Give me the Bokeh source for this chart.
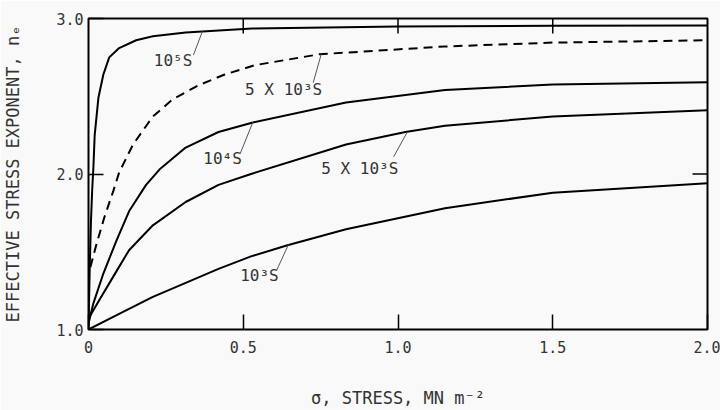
import math
from bokeh.plotting import figure
from bokeh.models import FixedTicker, Range1d, ColumnDataSource
from bokeh.core.properties import value
from bokeh.embed import file_html
from bokeh.resources import INLINE

# ---- data (stress in MN m^-2, effective stress exponent n_e) ----
s_1e5 = [0.0, 0.004, 0.008, 0.012, 0.016, 0.02, 0.032, 0.048, 0.067, 0.099, 0.154, 0.208, 0.314, 0.528, 1.0, 1.5, 2.0]
n_1e5 = [1.0, 1.4, 1.7, 1.9, 2.05, 2.25, 2.49, 2.64, 2.75, 2.81, 2.86, 2.886, 2.91, 2.935, 2.948, 2.953, 2.955]

s_5e3_dash = [0.006, 0.026, 0.051, 0.08, 0.099, 0.144, 0.208, 0.272, 0.355, 0.44, 0.538, 0.746, 1.15, 1.5, 2.0]
n_5e3_dash = [1.40, 1.55, 1.72, 1.89, 2.01, 2.19, 2.37, 2.48, 2.57, 2.64, 2.70, 2.77, 2.82, 2.845, 2.86]

s_1e4 = [0.0, 0.016, 0.048, 0.09, 0.131, 0.186, 0.23, 0.314, 0.42, 0.528, 0.832, 1.152, 1.5, 2.0]
n_1e4 = [1.04, 1.17, 1.36, 1.57, 1.76, 1.93, 2.03, 2.17, 2.27, 2.33, 2.46, 2.54, 2.575, 2.59]

s_5e3 = [0.0, 0.003, 0.035, 0.08, 0.131, 0.208, 0.314, 0.42, 0.525, 0.832, 1.024, 1.152, 1.5, 2.0]
n_5e3 = [1.02, 1.08, 1.19, 1.34, 1.51, 1.67, 1.82, 1.93, 2.0, 2.19, 2.27, 2.31, 2.37, 2.41]

s_1e3 = [0.0, 0.099, 0.208, 0.314, 0.42, 0.525, 0.64, 0.832, 1.152, 1.5, 2.0]
n_1e3 = [1.0, 1.10, 1.21, 1.30, 1.39, 1.47, 1.54, 1.645, 1.78, 1.88, 1.94]

curve_labels = ["10\u2075S", "5 X 10\u00b3S", "10\u2074S", "5 X 10\u00b3S", "10\u00b3S"]

x_ticks = [0, 0.5, 1.0, 1.5, 2.0]
x_tick_labels = ["0", "0.5", "1.0", "1.5", "2.0"]
y_ticks = [1.0, 2.0, 3.0]
y_tick_labels = ["1.0", "2.0", "3.0"]

# ---- annotation placement (data coords) ----
label_x = [0.211, 0.506, 0.371, 0.752, 0.49]
label_y = [2.733, 2.543, 2.098, 2.035, 1.35]
lead_x0 = [0.339, 0.726, 0.49, 0.986, 0.608]
lead_y0 = [2.765, 2.587, 2.13, 2.111, 1.381]
lead_x1 = [0.368, 0.752, 0.531, 1.03, 0.646]
lead_y1 = [2.917, 2.771, 2.333, 2.27, 1.546]

FONT = "DejaVu Sans Mono"
TXT = "#333333"
BG = "#f8f9f8"

p = figure(width=720, height=410, x_range=Range1d(0, 2), y_range=Range1d(1, 3),
           output_backend="svg", toolbar_location=None,
           min_border_left=82, min_border_right=13, min_border_top=18, min_border_bottom=77,
           x_axis_label="\u03c3, STRESS, MN m\u207b\u00b2",
           y_axis_label="EFFECTIVE STRESS EXPONENT, n\u2091")
p.background_fill_color = BG
p.border_fill_color = BG
p.grid.visible = False
p.outline_line_color = "black"
p.outline_line_width = 2
p.outline_line_alpha = 1.0

for ax, ticks, labels in ((p.xaxis[0], x_ticks, x_tick_labels), (p.yaxis[0], y_ticks, y_tick_labels)):
    ax.ticker = FixedTicker(ticks=ticks)
    ax.major_label_overrides = {t: l for t, l in zip(ticks, labels)}
    ax.major_tick_in = 15
    ax.major_tick_out = 0
    ax.major_tick_line_width = 1.5
    ax.major_tick_line_color = "black"
    ax.minor_tick_line_color = None
    ax.axis_line_color = None
    ax.major_label_text_font = FONT
    ax.major_label_text_font_size = "15px"
    ax.major_label_text_color = TXT
    ax.axis_label_text_font = FONT
    ax.axis_label_text_font_size = "17px"
    ax.axis_label_text_font_style = "normal"
    ax.axis_label_text_color = TXT

p.xaxis[0].major_label_standoff = 11
p.xaxis[0].axis_label_standoff = 32
p.yaxis[0].major_label_standoff = 5
p.yaxis[0].axis_label_standoff = 30

# inward ticks on the top and right edges of the frame
top_x = x_ticks[1:-1]
p.ray(x=top_x, y=[y_ticks[-1]] * len(top_x), length=15, length_units="screen",
      angle=-math.pi / 2, line_color="black", line_width=1.5)
right_y = y_ticks[1:-1]
p.ray(x=[x_ticks[-1]] * len(right_y), y=right_y, length=15, length_units="screen",
      angle=math.pi, line_color="black", line_width=1.5)

p.line(s_1e5, n_1e5, line_color="black", line_width=2)
p.line(s_5e3_dash, n_5e3_dash, line_color="black", line_width=2, line_dash="9 6")
p.line(s_1e4, n_1e4, line_color="black", line_width=2)
p.line(s_5e3, n_5e3, line_color="black", line_width=2)
p.line(s_1e3, n_1e3, line_color="black", line_width=2)

lab_src = ColumnDataSource(dict(x=label_x, y=label_y, t=curve_labels))
p.text(x="x", y="y", text="t", source=lab_src, text_font=value(FONT), text_font_size="16px",
       text_color=TXT, text_baseline="alphabetic", text_align="left")
p.segment(x0=lead_x0, y0=lead_y0, x1=lead_x1, y1=lead_y1, line_color="#555555", line_width=1)

open("out.html", "w").write(file_html(p, INLINE))
